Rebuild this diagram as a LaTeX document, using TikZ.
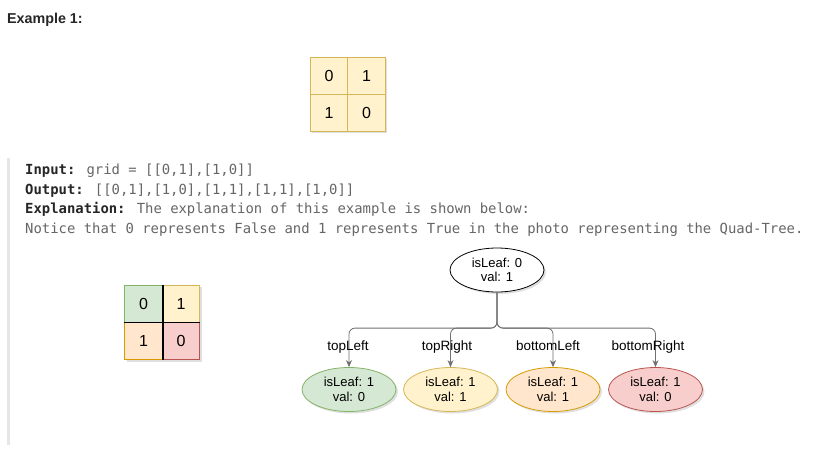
\documentclass[tikz,border=0pt]{standalone}
\usepackage{fontspec}
\setmainfont{Liberation Sans}
\newfontfamily\codefont{DejaVu Sans Mono}
\usetikzlibrary{shapes.geometric,shadows,arrows.meta}
\definecolor{gfill}{HTML}{D5E8D4}\definecolor{gline}{HTML}{82B366}
\definecolor{yfill}{HTML}{FFF2CC}\definecolor{yline}{HTML}{D6B656}
\definecolor{ofill}{HTML}{FFE6CC}\definecolor{oline}{HTML}{D79B00}
\definecolor{rfill}{HTML}{F8CECC}\definecolor{rline}{HTML}{B85450}
\definecolor{codedark}{HTML}{262626}\definecolor{codegray}{HTML}{666666}
\definecolor{edgegray}{HTML}{707070}\definecolor{bargray}{HTML}{E6E6E6}
\tikzset{
  x=1pt,y=-1pt,
  shad/.style={drop shadow={shadow xshift=2pt,shadow yshift=-2pt,opacity=0.25,fill=gray}},
  cell/.style={draw,line width=0.8pt,minimum width=37.5pt,minimum height=37pt,inner sep=0pt,font=\fontsize{16}{16}\selectfont},
  tnode/.style={ellipse,draw,line width=0.8pt,minimum width=94pt,minimum height=44pt,inner sep=0pt,align=center,font=\fontsize{13}{14.5}\selectfont,shad},
  edge/.style={draw=edgegray,line width=0.8pt,rounded corners=6pt,-{Stealth[length=7pt,width=6pt]}},
  elabel/.style={font=\fontsize{13.5}{13.5}\selectfont,inner sep=0pt,anchor=base},
  code/.style={anchor=base west,inner sep=0pt,font=\codefont\fontsize{13.9}{14}\selectfont},
}
\begin{document}
\begin{tikzpicture}
\useasboundingbox[fill=white] (0,0) rectangle (831,456);
% title
\node[anchor=base west,inner sep=0pt,font=\bfseries\fontsize{14.3}{14}\selectfont,text=codedark] (title) at (7,23) {Example 1:};
% top grid
\fill[gray,opacity=0.25] (312,59) rectangle (387,133);
\node[cell,fill=yfill,draw=yline] (t00) at (329,75.5) {0};
\node[cell,fill=yfill,draw=yline] (t01) at (366.5,75.5) {1};
\node[cell,fill=yfill,draw=yline] (t10) at (329,112.5) {1};
\node[cell,fill=yfill,draw=yline] (t11) at (366.5,112.5) {0};
% left bar
\fill[bargray] (7,158) rectangle (9.5,445);
% code text
\node[code] (l1) at (25,174.5) {\textcolor{codedark}{\bfseries Input:} \textcolor{codegray}{grid = [[0,1],[1,0]]}};
\node[code] (l2) at (25,194) {\textcolor{codedark}{\bfseries Output:} \textcolor{codegray}{[[0,1],[1,0],[1,1],[1,1],[1,0]]}};
\node[code] (l3) at (25,213.5) {\textcolor{codedark}{\bfseries Explanation:} \textcolor{codegray}{The explanation of this example is shown below:}};
\node[code,text=codegray] (l4) at (25,233) {Notice that 0 represents False and 1 represents True in the photo representing the Quad-Tree.};
% bottom grid
\fill[gray,opacity=0.25] (127,287) rectangle (202,362);
\node[cell,fill=gfill,draw=gline] (b00) at (143.5,303.5) {0};
\node[cell,fill=yfill,draw=yline] (b01) at (181,303.5) {1};
\node[cell,fill=ofill,draw=oline] (b10) at (143.5,341) {1};
\node[cell,fill=rfill,draw=rline] (b11) at (181,341) {0};
\draw[line width=1.8pt] (b00.north east) -- (b10.south east);
\draw[line width=1.8pt] (b00.south west) -- (b01.south east);
% tree
\node[tnode,fill=white,draw=black] (root) at (497,270) {isLeaf: 0\\val: 1};
\node[tnode,fill=gfill,draw=gline] (c1) at (349,389.5) {isLeaf: 1\\val: 0};
\node[tnode,fill=yfill,draw=yline] (c2) at (450.5,389.5) {isLeaf: 1\\val: 1};
\node[tnode,fill=ofill,draw=oline] (c3) at (553,389.5) {isLeaf: 1\\val: 1};
\node[tnode,fill=rfill,draw=rline] (c4) at (655.5,389.5) {isLeaf: 1\\val: 0};
\foreach \c in {c1,c2,c3,c4}{
  \draw[edge] (root.south) |- ([yshift=39pt]\c.north) -- (\c.north);
}
\node[elabel] (lb1) at (348,350) {topLeft};
\node[elabel] (lb2) at (447,350) {topRight};
\node[elabel] (lb3) at (548,350) {bottomLeft};
\node[elabel] (lb4) at (648,350) {bottomRight};
\end{tikzpicture}
\end{document}
